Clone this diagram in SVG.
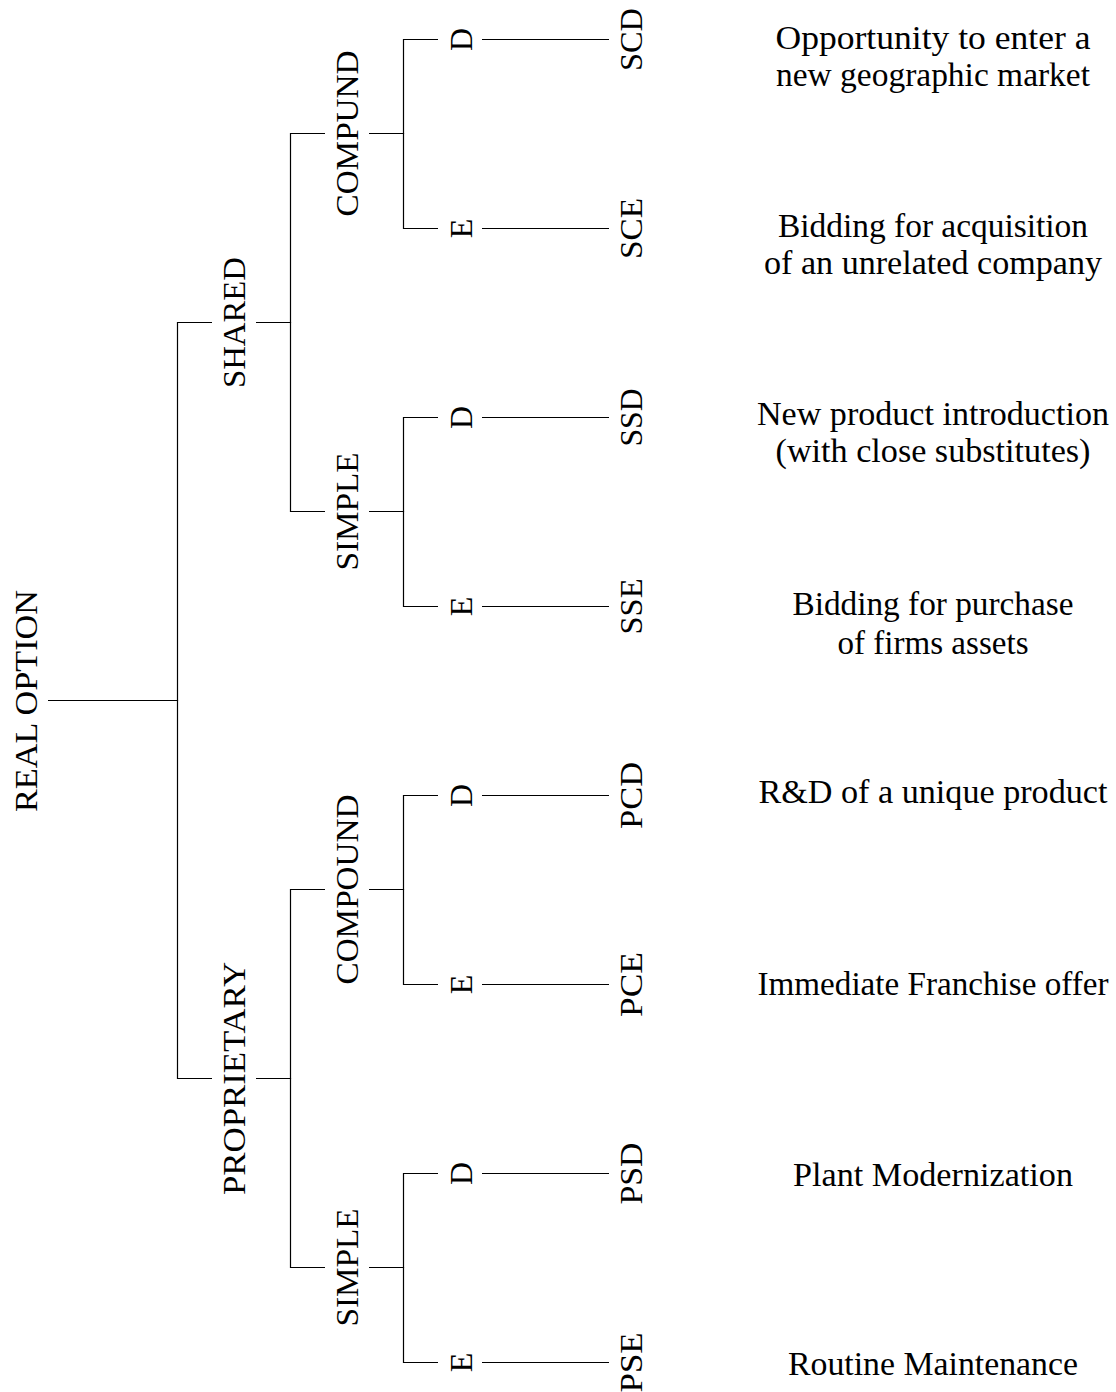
<svg xmlns="http://www.w3.org/2000/svg" width="1116" height="1392" viewBox="0 0 1116 1392">
<style>
  text { font-family: "Liberation Serif", "Times New Roman", serif; fill: #000; }
  .lbl { font-size: 32px; text-anchor: middle; }
  .desc { font-size: 33px; text-anchor: middle; }
  .conn path { stroke: #000; stroke-width: 1.2; fill: none; }
</style>
<rect width="1116" height="1392" fill="#fff"/>
<g id="connectors" class="conn">
  <path d="M48 700.5 H177.5 V322.5 H212"/>
  <path d="M48 700.5 H177.5 V1078.5 H212"/>
  <path d="M256 322.5 H290.5 V133.5 H325"/>
  <path d="M256 322.5 H290.5 V511.5 H325"/>
  <path d="M256 1078.5 H290.5 V889.5 H325"/>
  <path d="M256 1078.5 H290.5 V1267.5 H325"/>
  <path d="M369 133.5 H403.5 V39.5 H438"/>
  <path d="M369 133.5 H403.5 V228.5 H438"/>
  <path d="M369 511.5 H403.5 V417.5 H438"/>
  <path d="M369 511.5 H403.5 V606.5 H438"/>
  <path d="M369 889.5 H403.5 V795.5 H438"/>
  <path d="M369 889.5 H403.5 V984.5 H438"/>
  <path d="M369 1267.5 H403.5 V1173.5 H438"/>
  <path d="M369 1267.5 H403.5 V1362.5 H438"/>
  <path d="M482 39.5 H609"/>
  <path d="M482 228.5 H609"/>
  <path d="M482 417.5 H609"/>
  <path d="M482 606.5 H609"/>
  <path d="M482 795.5 H609"/>
  <path d="M482 984.5 H609"/>
  <path d="M482 1173.5 H609"/>
  <path d="M482 1362.5 H609"/>
</g>
<g id="root"><text class="lbl" transform="translate(37,701) rotate(-90)" textLength="222" lengthAdjust="spacingAndGlyphs">REAL OPTION</text></g>
<g id="shared"><text class="lbl" transform="translate(245,322.5) rotate(-90)" textLength="131" lengthAdjust="spacingAndGlyphs">SHARED</text></g>
<g id="proprietary"><text class="lbl" transform="translate(245,1078.5) rotate(-90)" textLength="233" lengthAdjust="spacingAndGlyphs">PROPRIETARY</text></g>
<g id="s-compund"><text class="lbl" transform="translate(358,133.5) rotate(-90)" textLength="166" lengthAdjust="spacingAndGlyphs">COMPUND</text></g>
<g id="s-simple"><text class="lbl" transform="translate(358,511.5) rotate(-90)" textLength="118" lengthAdjust="spacingAndGlyphs">SIMPLE</text></g>
<g id="p-compound"><text class="lbl" transform="translate(358,889.5) rotate(-90)" textLength="190" lengthAdjust="spacingAndGlyphs">COMPOUND</text></g>
<g id="p-simple"><text class="lbl" transform="translate(358,1267.5) rotate(-90)" textLength="118" lengthAdjust="spacingAndGlyphs">SIMPLE</text></g>
<g id="scd-d"><text class="lbl" transform="translate(472,39.5) rotate(-90)">D</text></g>
<g id="sce-e"><text class="lbl" transform="translate(472,228.5) rotate(-90)">E</text></g>
<g id="ssd-d"><text class="lbl" transform="translate(472,417.5) rotate(-90)">D</text></g>
<g id="sse-e"><text class="lbl" transform="translate(472,606.5) rotate(-90)">E</text></g>
<g id="pcd-d"><text class="lbl" transform="translate(472,795.5) rotate(-90)">D</text></g>
<g id="pce-e"><text class="lbl" transform="translate(472,984.5) rotate(-90)">E</text></g>
<g id="psd-d"><text class="lbl" transform="translate(472,1173.5) rotate(-90)">D</text></g>
<g id="pse-e"><text class="lbl" transform="translate(472,1362.5) rotate(-90)">E</text></g>
<g id="scd"><text class="lbl" transform="translate(642,39.5) rotate(-90)" textLength="63" lengthAdjust="spacingAndGlyphs">SCD</text></g>
<g id="sce"><text class="lbl" transform="translate(642,228.5) rotate(-90)" textLength="61" lengthAdjust="spacingAndGlyphs">SCE</text></g>
<g id="ssd"><text class="lbl" transform="translate(642,417.5) rotate(-90)" textLength="58" lengthAdjust="spacingAndGlyphs">SSD</text></g>
<g id="sse"><text class="lbl" transform="translate(642,606.5) rotate(-90)" textLength="56" lengthAdjust="spacingAndGlyphs">SSE</text></g>
<g id="pcd"><text class="lbl" transform="translate(642,795.5) rotate(-90)" textLength="67" lengthAdjust="spacingAndGlyphs">PCD</text></g>
<g id="pce"><text class="lbl" transform="translate(642,984.5) rotate(-90)" textLength="65" lengthAdjust="spacingAndGlyphs">PCE</text></g>
<g id="psd"><text class="lbl" transform="translate(642,1173.5) rotate(-90)" textLength="62" lengthAdjust="spacingAndGlyphs">PSD</text></g>
<g id="pse"><text class="lbl" transform="translate(642,1362.5) rotate(-90)" textLength="60" lengthAdjust="spacingAndGlyphs">PSE</text></g>
<g id="desc-scd">
  <text class="desc" x="933" y="48.5" textLength="315" lengthAdjust="spacingAndGlyphs">Opportunity to enter a</text>
  <text class="desc" x="933" y="85.5" textLength="314" lengthAdjust="spacingAndGlyphs">new geographic market</text>
</g>
<g id="desc-sce">
  <text class="desc" x="933" y="237" textLength="310" lengthAdjust="spacingAndGlyphs">Bidding for acquisition</text>
  <text class="desc" x="933" y="274" textLength="338" lengthAdjust="spacingAndGlyphs">of an unrelated company</text>
</g>
<g id="desc-ssd">
  <text class="desc" x="933" y="425" textLength="352" lengthAdjust="spacingAndGlyphs">New product introduction</text>
  <text class="desc" x="933" y="462" textLength="315" lengthAdjust="spacingAndGlyphs">(with close substitutes)</text>
</g>
<g id="desc-sse">
  <text class="desc" x="933" y="615" textLength="281" lengthAdjust="spacingAndGlyphs">Bidding for purchase</text>
  <text class="desc" x="933" y="654" textLength="191" lengthAdjust="spacingAndGlyphs">of firms assets</text>
</g>
<g id="desc-pcd"><text class="desc" x="933" y="803" textLength="349" lengthAdjust="spacingAndGlyphs">R&amp;D of a unique product</text></g>
<g id="desc-pce"><text class="desc" x="933" y="995" textLength="351" lengthAdjust="spacingAndGlyphs">Immediate Franchise offer</text></g>
<g id="desc-psd"><text class="desc" x="933" y="1186" textLength="280" lengthAdjust="spacingAndGlyphs">Plant Modernization</text></g>
<g id="desc-pse"><text class="desc" x="933" y="1375" textLength="290" lengthAdjust="spacingAndGlyphs">Routine Maintenance</text></g>
</svg>
